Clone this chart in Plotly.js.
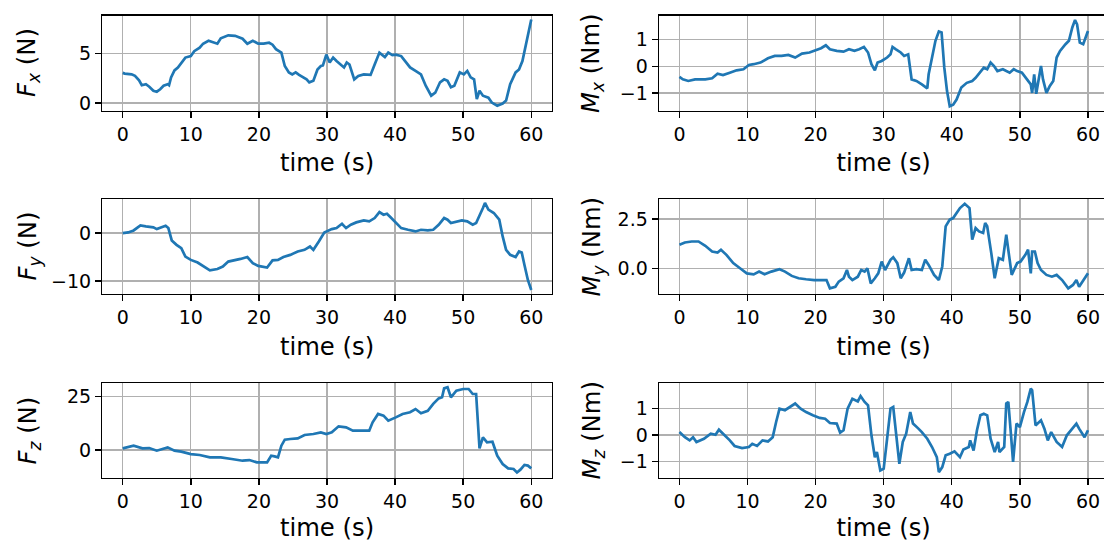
<!DOCTYPE html>
<html><head><meta charset="utf-8">
<script src="https://cdn.plot.ly/plotly-3.0.1.min.js"></script>
<style>html,body{margin:0;padding:0;overflow:hidden;background:#fff}#chart{width:1110px;height:542px}</style>
</head><body><div id="chart"></div>
<script>
// ---------- data (time s, value) ----------
const xTicks = [0, 10, 20, 30, 40, 50, 60];
const xLabel = 'time (s)';

const fxPts = [[0,3.05],[0.3,2.98],[1.3,2.9],[1.8,2.75],[2.4,2.3],[2.8,1.8],[3.4,1.9],[3.9,1.65],[4.5,1.25],[5.0,1.15],[5.5,1.4],[6.0,1.75],[6.6,1.9],[6.8,1.8],[7.1,2.6],[7.6,3.3],[8.1,3.6],[8.6,4.1],[9.2,4.6],[10,4.75],[10.5,5.25],[11.3,5.6],[11.8,6.0],[12.6,6.3],[13.4,6.1],[13.9,6.0],[14.4,6.55],[15.5,6.85],[16.5,6.8],[17.6,6.5],[18.3,6.0],[19.1,6.3],[19.9,6.0],[20.7,6.0],[21.5,6.1],[22.0,5.9],[22.5,5.45],[23.3,5.1],[23.8,3.75],[24.4,3.1],[24.9,2.9],[25.4,3.1],[25.9,2.85],[26.5,2.6],[27,2.4],[27.4,2.1],[28,2.25],[28.6,3.4],[29.1,3.75],[29.4,3.8],[29.9,4.9],[30.4,4.1],[30.9,4.6],[31.4,4.25],[32,3.85],[32.5,3.6],[32.9,4.1],[33.3,3.9],[34,2.4],[34.6,2.75],[35.4,2.9],[36.4,2.85],[37,3.9],[37.7,5.1],[38.5,4.65],[39,5.1],[39.6,4.85],[40.1,4.9],[40.9,4.75],[41.7,4.1],[42.2,3.6],[43,3.25],[43.8,2.9],[44.5,1.75],[45.3,0.75],[45.9,1.05],[46.6,2.1],[47.2,2.4],[47.7,2.25],[48.2,1.6],[48.7,1.75],[49.5,3.1],[50.1,2.9],[50.6,3.25],[51.1,2.6],[51.6,2.4],[52,0.4],[52.4,1.25],[52.9,0.75],[53.7,0.55],[54.2,0.05],[55,-0.27],[55.8,-0.05],[56.3,0.25],[56.9,1.9],[57.7,3.1],[58.2,3.4],[58.7,4.25],[59.5,6.95],[60,8.45]];

const mxPts = [[0,-0.4],[0.5,-0.49],[1.3,-0.55],[2.3,-0.49],[3.8,-0.49],[4.8,-0.45],[5.6,-0.28],[6.4,-0.33],[7.4,-0.24],[8.4,-0.15],[9.4,-0.11],[10.2,0.05],[10.9,0.08],[11.9,0.14],[13,0.3],[14,0.39],[15,0.39],[16,0.43],[17,0.33],[18,0.48],[19.1,0.52],[20.1,0.6],[20.8,0.68],[21.5,0.79],[22.1,0.64],[23.1,0.58],[24.1,0.55],[24.9,0.64],[25.7,0.58],[26.4,0.64],[27.1,0.73],[27.7,0.52],[28.2,0.08],[28.7,-0.15],[29.1,0.14],[29.7,0.2],[30.5,0.33],[31,0.45],[31.3,0.73],[31.8,0.64],[32.5,0.52],[33,0.39],[33.6,0.45],[34.1,-0.49],[34.8,-0.55],[35.6,-0.68],[36.4,-0.83],[36.6,-0.3],[37.1,0.33],[37.6,0.96],[38.1,1.31],[38.5,1.27],[38.9,-0.05],[39.3,-0.93],[39.7,-1.5],[40.2,-1.44],[40.7,-1.25],[41.4,-0.8],[42.2,-0.62],[43,-0.55],[43.5,-0.43],[44.2,-0.18],[44.7,-0.05],[45.2,-0.11],[45.7,0.14],[46.2,0.01],[46.7,-0.18],[47.5,-0.11],[48.5,-0.24],[49.1,-0.11],[49.6,-0.18],[50.3,-0.24],[51.1,-0.49],[51.6,-0.68],[51.8,-1.0],[52.1,-0.3],[52.4,-1.03],[52.8,-0.43],[53.1,0.01],[53.4,-0.49],[53.9,-1.0],[54.4,-0.74],[54.9,-0.55],[55.4,0.33],[55.9,0.58],[56.7,0.83],[57.2,0.96],[57.7,1.46],[58.1,1.74],[58.4,1.58],[58.8,0.89],[59.3,0.83],[59.7,1.08],[60,1.33]];

const fyPts = [[0,0],[0.8,0.14],[1.6,0.56],[2.6,1.6],[3.4,1.4],[4.5,1.2],[5,0.84],[5.8,1.2],[6.3,1.54],[6.7,1.05],[7.2,-1.54],[7.9,-2.45],[8.6,-3.15],[9.2,-4.9],[10,-5.6],[11,-6.15],[11.8,-6.85],[12.8,-7.8],[13.9,-7.5],[14.7,-7.0],[15.5,-5.95],[16.5,-5.7],[17.3,-5.4],[18.3,-5.0],[19.1,-6.3],[19.9,-6.85],[20.7,-7.1],[21.2,-7.2],[22,-5.7],[22.8,-5.6],[23.6,-5.0],[24.6,-4.55],[25.7,-3.85],[26.7,-3.5],[27.5,-2.8],[28,-3.5],[28.8,-1.75],[29.6,0.14],[30.7,0.84],[31.4,1.05],[32.2,1.96],[32.8,1.05],[33.5,1.75],[34.3,2.24],[35.4,2.66],[36.2,2.45],[37,3.15],[37.7,4.4],[38.3,3.85],[38.8,4.05],[39.3,3.35],[40.1,2.1],[40.9,1.05],[41.9,0.7],[43,0.35],[43.8,0.7],[44.8,0.56],[45.6,0.7],[46.4,1.75],[47.2,3.15],[47.7,2.8],[48.2,2.1],[49,2.45],[49.8,2.66],[50.6,2.45],[51.4,1.75],[51.9,2.1],[52.4,3.5],[52.9,5.25],[53.2,6.3],[53.7,4.9],[54.5,4.2],[55.3,2.8],[55.8,-0.7],[56.3,-3.5],[56.9,-4.55],[57.7,-5.0],[58.2,-3.85],[58.6,-4.06],[59,-6.65],[59.5,-9.8],[60,-11.9]];

const myPts = [[0,1.19],[0.8,1.31],[1.8,1.36],[2.8,1.36],[3.8,1.14],[4.8,0.85],[5.6,0.8],[6.1,0.94],[6.9,0.68],[7.9,0.26],[8.9,0.0],[9.9,-0.26],[10.9,-0.31],[11.7,-0.17],[12.5,-0.31],[13.5,-0.17],[14.7,-0.05],[15.5,-0.17],[16.5,-0.39],[17.5,-0.51],[18.6,-0.56],[19.8,-0.6],[21.1,-0.6],[21.6,-0.6],[22.1,-1.02],[22.9,-0.94],[23.4,-0.68],[24.1,-0.51],[24.6,-0.09],[24.9,-0.43],[25.4,-0.6],[26.2,-0.43],[26.7,-0.09],[27.2,-0.17],[27.6,0.0],[28.1,-0.77],[28.7,-0.51],[29.2,-0.26],[29.7,0.34],[30.2,-0.09],[31,0.43],[31.4,0.56],[32,0.26],[32.5,-0.51],[33,-0.22],[33.7,0.51],[34.1,-0.09],[34.8,-0.05],[35.6,-0.09],[36.1,0.43],[36.6,0.17],[37.4,-0.34],[38.1,-0.6],[38.6,0.09],[39.1,2.13],[39.7,2.47],[40.2,2.55],[40.7,2.81],[41.2,3.06],[41.9,3.28],[42.6,3.06],[43,1.45],[43.5,2.04],[44,1.87],[44.6,1.79],[44.9,2.3],[45.2,2.13],[45.8,0.77],[46.3,-0.51],[46.9,0.51],[47.5,0.43],[48,1.7],[48.3,1.02],[48.8,-0.34],[49.6,0.26],[50.1,0.34],[50.8,0.68],[51.2,0.94],[51.6,-0.26],[51.8,0.85],[52.2,0.85],[52.6,0.26],[53.1,-0.09],[53.9,-0.34],[54.7,-0.43],[55.4,-0.34],[56.2,-0.6],[57.1,-1.02],[57.8,-0.85],[58.3,-0.6],[58.7,-0.94],[59.2,-0.68],[60,-0.26]];

const fzPts = [[0,0.78],[1.6,2.0],[2.9,0.78],[3.9,0.94],[5.0,-0.31],[6.6,1.25],[7.6,-0.31],[8.6,-0.78],[10,-1.88],[11.3,-2.34],[12.8,-3.44],[14.4,-3.44],[16,-4.22],[17.6,-5.0],[18.6,-4.69],[19.7,-5.78],[21.2,-5.78],[21.8,-2.66],[22.3,-2.97],[22.8,-3.44],[23.3,2.03],[23.8,4.84],[24.6,5.16],[25.7,5.47],[26.7,7.03],[28,7.5],[29.1,8.28],[29.9,7.5],[30.7,8.28],[31.7,11.1],[32.8,10.6],[33.8,9.06],[34.9,9.06],[36.2,9.06],[36.7,12.97],[37.5,16.9],[38.3,16.1],[39,13.75],[40.1,15.3],[41.1,16.9],[42.2,17.7],[43,19.2],[43.8,17.2],[44.8,18.4],[45.6,21.6],[46.4,24.2],[46.9,24.7],[47.2,28.9],[47.7,29.4],[48.2,24.7],[49,27.8],[50,28.6],[50.8,28.6],[51.4,26.25],[51.9,26.25],[52.2,9.84],[52.4,0.78],[52.9,5.94],[53.5,3.6],[54.3,3.9],[55,-2.66],[55.8,-6.56],[56.6,-8.6],[57.4,-8.9],[57.9,-10.5],[58.4,-9.2],[59,-7.0],[59.5,-7.3],[60,-8.6]];

const mzPts = [[0,0.11],[0.8,-0.08],[1.5,-0.2],[2,-0.08],[2.5,-0.26],[3.6,-0.14],[4.6,0.05],[5.3,0.01],[5.8,0.2],[6.6,0.01],[7.4,-0.2],[8.1,-0.41],[9.2,-0.49],[10.2,-0.45],[10.7,-0.33],[11.4,-0.41],[12.2,-0.2],[13,-0.24],[13.7,-0.08],[14.2,0.49],[14.7,0.99],[15.5,0.93],[16.3,1.05],[17,1.18],[17.8,0.99],[18.6,0.86],[19.6,0.74],[20.6,0.64],[21.4,0.61],[22.1,0.45],[23.1,0.43],[23.6,0.09],[24.1,0.18],[24.7,0.99],[25.4,1.36],[26.2,1.26],[26.6,1.46],[27.2,1.24],[27.7,1.11],[28.2,-0.01],[28.7,-0.83],[29,-0.64],[29.5,-1.33],[30,-1.26],[30.5,-0.14],[31,0.99],[31.4,1.05],[31.8,-0.01],[32.3,-1.08],[32.8,-0.26],[33.3,0.05],[33.9,0.86],[34.3,0.43],[35.1,0.24],[35.6,0.11],[36.4,-0.14],[37.1,-0.45],[37.8,-0.83],[38.1,-1.39],[38.6,-1.2],[39.1,-0.76],[39.7,-0.7],[40.4,-0.61],[41.2,-0.83],[41.7,-0.54],[42.5,-0.45],[42.7,-0.2],[43.2,-0.58],[43.7,0.18],[44.2,0.74],[44.7,0.8],[45.2,0.74],[45.7,-0.14],[46.3,-0.64],[46.8,-0.26],[47,-0.64],[47.7,-0.45],[48,1.18],[48.3,1.24],[48.7,-0.01],[49,-1.01],[49.5,0.43],[50,0.3],[50.6,0.86],[51.1,1.24],[51.6,1.74],[51.8,1.68],[52.3,0.36],[53.1,0.55],[53.6,0.24],[54.1,-0.2],[54.6,0.11],[55.4,-0.26],[56.2,-0.45],[56.9,-0.01],[57.7,0.24],[58.3,0.43],[58.7,0.24],[59.5,-0.08],[60,0.18]];

const yLabels = [
  '<i>F</i><sub><i>x</i></sub> (N)', '<i>M</i><sub><i>x</i></sub> (Nm)',
  '<i>F</i><sub><i>y</i></sub> (N)', '<i>M</i><sub><i>y</i></sub> (Nm)',
  '<i>F</i><sub><i>z</i></sub> (N)', '<i>M</i><sub><i>z</i></sub> (Nm)'
];
const yTickVals = [[0,5],[-1,0,1],[-10,0],[0,2.5],[0,25],[-1,0,1]];
const yTickText = [['0','5'],['\u22121','0','1'],['\u221210','0'],['0.0','2.5'],['0','25'],['\u22121','0','1']];
const series = [fxPts, mxPts, fyPts, myPts, fzPts, mzPts];

// ---------- layout ----------
const W = 1110, H = 542;
const yRanges = [[-0.75,8.85],[-1.66,1.91],[-12.73,7.13],[-1.31,3.52],[-13.1,31.4],[-1.61,1.95]];
const colPx = [[102.3,551.7],[659,1108.4]];
const rowPx = [[15.5,110.5],[199,294],[383,478]];
const labelX = [28, 592];

const FONT = 'DejaVu Sans, sans-serif';
const traces = [];
const layout = {
  width: W, height: H,
  margin: {l:0, r:0, t:0, b:0},
  paper_bgcolor: '#fff', plot_bgcolor: '#fff',
  showlegend: false,
  font: {family: FONT, color: '#000', size: 19},
  annotations: []
};

series.forEach((pts, i) => {
  const n = i + 1;
  const col = i % 2, row = Math.floor(i / 2);
  const xa = n === 1 ? 'xaxis' : 'xaxis' + n;
  const ya = n === 1 ? 'yaxis' : 'yaxis' + n;
  traces.push({
    type: 'scatter', mode: 'lines',
    x: pts.map(p => p[0]), y: pts.map(p => p[1]),
    xaxis: 'x' + (n === 1 ? '' : n), yaxis: 'y' + (n === 1 ? '' : n),
    line: {color: '#1f77b4', width: 2.7},
    hoverinfo: 'skip'
  });
  const common = {
    showline: true, mirror: true, linecolor: '#000', linewidth: 1.4,
    showgrid: true, gridcolor: '#b0b0b0', gridwidth: 1.3,
    zeroline: false,
    ticks: 'outside', ticklen: 6, tickwidth: 1.4, tickcolor: '#000',
    tickfont: {family: FONT, size: 19, color: '#000'},
    fixedrange: true
  };
  layout[xa] = Object.assign({}, common, {
    domain: [colPx[col][0] / W, colPx[col][1] / W],
    anchor: 'y' + (n === 1 ? '' : n),
    range: [-3, 63],
    tickmode: 'array', tickvals: xTicks, ticktext: xTicks.map(String),
    title: {text: xLabel, font: {family: FONT, size: 24.3, color: '#000'}, standoff: 10}
  });
  layout[ya] = Object.assign({}, common, {
    domain: [1 - rowPx[row][1] / H, 1 - rowPx[row][0] / H],
    anchor: 'x' + (n === 1 ? '' : n),
    range: yRanges[i],
    tickmode: 'array', tickvals: yTickVals[i], ticktext: yTickText[i]
  });
  layout.annotations.push({
    text: yLabels[i], textangle: -90, showarrow: false,
    xref: 'paper', yref: 'paper',
    x: labelX[col] / W, y: 1 - (rowPx[row][0] + rowPx[row][1]) / 2 / H,
    xanchor: 'center', yanchor: 'middle',
    font: {family: FONT, size: 24.3, color: '#000'}
  });
});

Plotly.newPlot('chart', traces, layout, {staticPlot: true, displayModeBar: false});
</script>
</body></html>
